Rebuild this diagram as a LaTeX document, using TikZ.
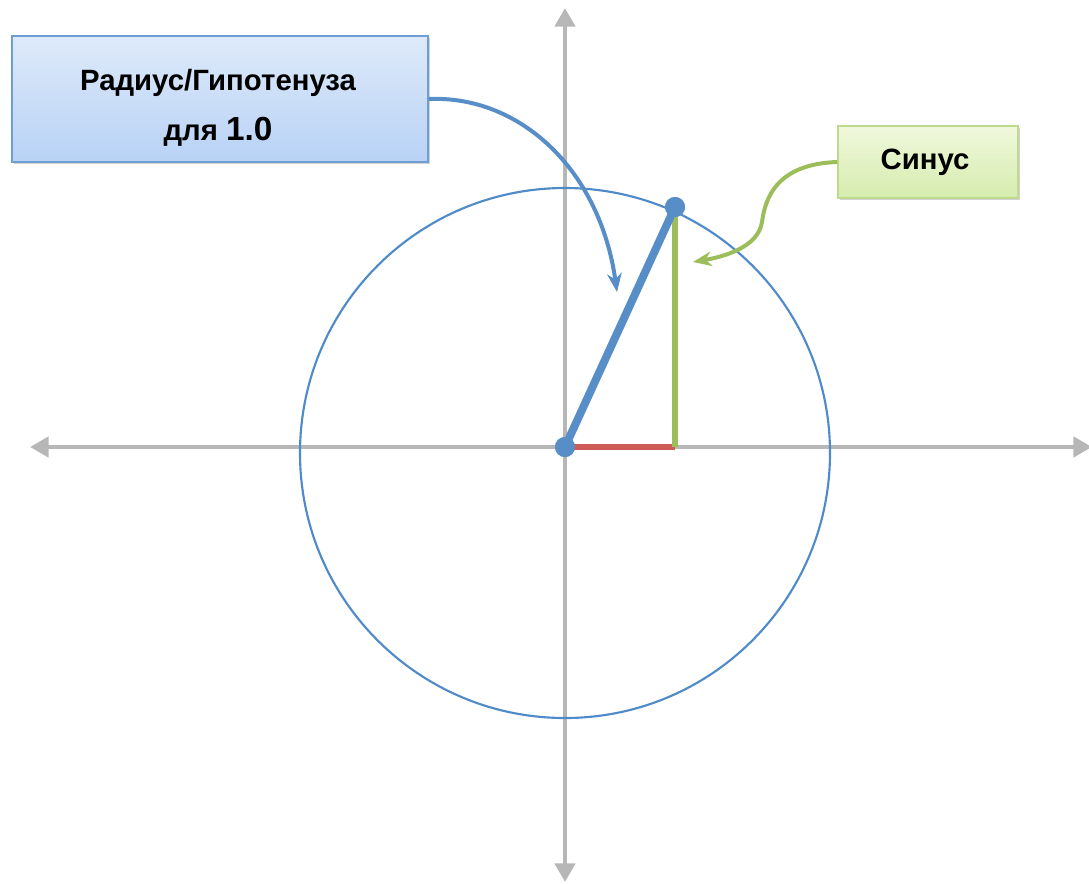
\documentclass[tikz,border=0pt]{standalone}
\usepackage{fontspec}
\setmainfont{Liberation Sans}
\usetikzlibrary{arrows.meta,shadows}
\definecolor{axisgray}{RGB}{183,183,183}
\definecolor{circblue}{RGB}{79,138,201}
\definecolor{radblue}{RGB}{88,142,200}
\definecolor{sinegreen}{RGB}{155,190,90}
\definecolor{cosred}{RGB}{204,92,85}
\definecolor{boxbluetop}{RGB}{222,234,250}
\definecolor{boxbluebot}{RGB}{184,210,245}
\definecolor{boxblueline}{RGB}{110,158,214}
\definecolor{boxgreentop}{RGB}{240,248,220}
\definecolor{boxgreenbot}{RGB}{214,236,175}
\definecolor{boxgreenline}{RGB}{190,218,140}
\tikzset{
  axis/.style={draw=axisgray, line width=3.6pt, -{Triangle[length=14pt,width=15pt]}},
  dot/.style={circle, fill=radblue, inner sep=0pt, minimum size=15pt},
  labelbox/.style={rectangle, line width=0.9pt,
     drop shadow={shadow xshift=1.5pt, shadow yshift=-1.5pt, fill=black!35, opacity=0.5}},
  labeltext/.style={font=\bfseries\fontsize{22}{37.5}\selectfont, align=center, inner sep=0pt},
  callout/.style={line width=3pt, -{Stealth[length=14pt,width=11pt]}}
}
\begin{document}
\begin{tikzpicture}[x=0.75pt,y=-0.75pt]
\useasboundingbox (0,0) rectangle (1089,883);
% axes
\coordinate (AL) at (30,447);
\coordinate (AR) at (1092,447);
\coordinate (AT) at (565,8);
\coordinate (AB) at (565,882);
\coordinate (C) at (565,447);
\draw[axis] (C) -- (AL);
\draw[axis] (C) -- (AR);
\draw[axis] (C) -- (AT);
\draw[axis] (C) -- (AB);
% circle
\draw[circblue, line width=1.6pt] (565,453) circle[radius=265];
% triangle
\node[dot] (O) at (565,447) {};
\node[dot] (P) at (675,207) {};
\coordinate (F) at (675,447);
\draw[cosred, line width=4pt] (O.center) -- (F);
\draw[sinegreen, line width=4pt] (P.center) -- (F);
\draw[radblue, line width=6pt, line cap=round] (O.center) -- (P.center);
\node[dot] at (O) {};
\node[dot] at (P) {};
% label boxes
\node[labelbox, draw=boxblueline, top color=boxbluetop, bottom color=boxbluebot,
      minimum width=312pt, minimum height=94.5pt] (rb) at (220,99) {};
\node[labeltext] (rbt) at (218,108)
      {Радиус/Гипотенуза\\для {\fontsize{25}{37.5}\selectfont 1.0}};
\node[labelbox, draw=boxgreenline, top color=boxgreentop, bottom color=boxgreenbot,
      minimum width=135pt, minimum height=54pt] (sb) at (928,162) {};
\node[labeltext, font=\bfseries\fontsize{22}{26}\selectfont] (sbt) at (925,162) {Синус};
% callout arrows
\coordinate (rt) at (617,292);
\coordinate (st) at (693,262);
\draw[callout, radblue] (rb.east) .. controls (520,95) and (600,170) .. (rt);
\draw[callout, sinegreen] (sb.west) .. controls (775,164) and (765,200) .. (762,222)
      .. controls (758,248) and (722,257) .. (st);
\end{tikzpicture}
\end{document}
